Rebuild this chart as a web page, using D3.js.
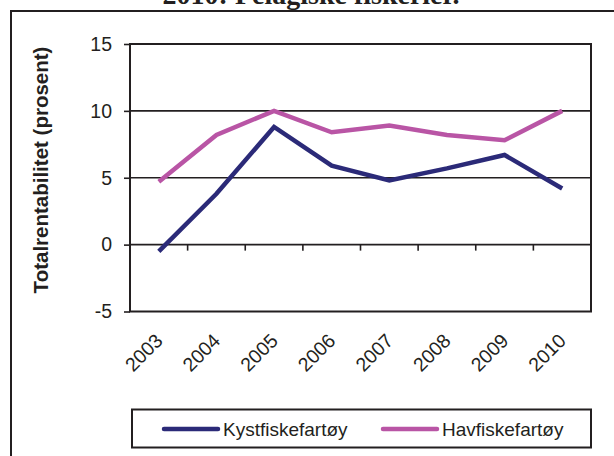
<!DOCTYPE html>
<meta charset="utf-8" />
<script src="https://d3js.org/d3.v7.min.js"></script>
<style>
  body { margin: 0; background: #fff; }
  text { font-family: "Liberation Sans", Arial, sans-serif; fill: #231f20; }
</style>
<div id="chart"></div>
<script>
  // data
  const years = ["2003", "2004", "2005", "2006", "2007", "2008", "2009", "2010"];
  const kystValues = [-0.5, 3.8, 8.8, 5.9, 4.8, 5.7, 6.7, 4.2];
  const havValues = [4.7, 8.2, 10.0, 8.4, 8.9, 8.2, 7.8, 10.0];
  const yTicks = [-5, 0, 5, 10, 15];
  const seriesNames = ["Kystfiskefartøy", "Havfiskefartøy"];
  const seriesColors = ["#2b2a78", "#b955a5"];

  const W = 614, H = 456;
  const plot = { left: 130, right: 591, top: 44, bottom: 311.5 };

  const svg = d3.select("#chart").append("svg")
    .attr("width", W).attr("height", H);

  // outer frame (runs off the right and bottom edges)
  svg.append("rect")
    .attr("x", 11).attr("y", 11)
    .attr("width", W).attr("height", H)
    .attr("fill", "none").attr("stroke", "#231f20").attr("stroke-width", 2);

  // title, mostly cut off at the top
  svg.append("text")
    .attr("x", 311).attr("y", 4)
    .attr("text-anchor", "middle")
    .style("font-family", "'Liberation Serif', 'Times New Roman', serif")
    .style("font-weight", "bold").style("font-size", "28px")
    .text("2010: Pelagiske fiskerier.");

  const x = d3.scaleBand().domain(years).range([plot.left, plot.right]);
  const y = d3.scaleLinear().domain([-5, 15]).range([plot.bottom, plot.top]);

  // gridlines
  svg.append("g").selectAll("line")
    .data(yTicks.filter(d => d > -5 && d < 15))
    .enter().append("line")
    .attr("x1", plot.left).attr("x2", plot.right)
    .attr("y1", d => y(d)).attr("y2", d => y(d))
    .attr("stroke", "#231f20").attr("stroke-width", 1.6);

  // plot border
  svg.append("rect")
    .attr("x", plot.left).attr("y", plot.top)
    .attr("width", plot.right - plot.left).attr("height", plot.bottom - plot.top)
    .attr("fill", "none").attr("stroke", "#231f20").attr("stroke-width", 2);

  // y axis
  const yAxis = svg.append("g")
    .attr("transform", "translate(" + plot.left + ",0)")
    .call(d3.axisLeft(y).tickValues(yTicks).tickSize(6).tickPadding(12).tickFormat(d => String(d)));
  yAxis.select(".domain").remove();
  yAxis.selectAll("line").attr("stroke", "#231f20").attr("stroke-width", 1.6);
  yAxis.selectAll("text").style("font-size", "19.5px").attr("fill", "#231f20");

  // x axis ticks at category boundaries, on the zero line
  const bounds = years.map(d => x(d)).concat([plot.right]);
  svg.append("g").selectAll("line")
    .data(bounds)
    .enter().append("line")
    .attr("x1", d => d).attr("x2", d => d)
    .attr("y1", y(0)).attr("y2", y(0) + 6)
    .attr("stroke", "#231f20").attr("stroke-width", 1.6);

  // rotated year labels
  svg.append("g").selectAll("text")
    .data(years)
    .enter().append("text")
    .attr("text-anchor", "end")
    .attr("transform", d => "translate(" + (x(d) + x.bandwidth() / 2 + 5) + ",342) rotate(-45)")
    .style("font-size", "19.5px")
    .text(d => d);

  // y axis title
  svg.append("text")
    .attr("transform", "translate(48," + 170 + ") rotate(-90)")
    .attr("text-anchor", "middle")
    .style("font-size", "20.5px").style("font-weight", "bold")
    .text("Totalrentabilitet (prosent)");

  // lines
  const line = d3.line()
    .x((d, i) => x(years[i]) + x.bandwidth() / 2)
    .y(d => y(d));

  [kystValues, havValues].forEach((vals, k) => {
    svg.append("path")
      .datum(vals)
      .attr("d", line)
      .attr("fill", "none")
      .attr("stroke", seriesColors[k])
      .attr("stroke-width", 4.5)
      .attr("stroke-linejoin", "miter");
  });

  // legend
  const lg = svg.append("g");
  lg.append("rect")
    .attr("x", 132).attr("y", 409.5)
    .attr("width", 459).attr("height", 38)
    .attr("fill", "#fff").attr("stroke", "#231f20").attr("stroke-width", 2);
  const legendX = [164, 383];
  seriesNames.forEach((name, k) => {
    lg.append("line")
      .attr("x1", legendX[k]).attr("x2", legendX[k] + 54)
      .attr("y1", 429).attr("y2", 429)
      .attr("stroke", seriesColors[k]).attr("stroke-width", 4.5)
      .attr("stroke-linecap", "round");
    lg.append("text")
      .attr("x", legendX[k] + 59).attr("y", 435.5)
      .style("font-size", "19px")
      .text(name);
  });
</script>
